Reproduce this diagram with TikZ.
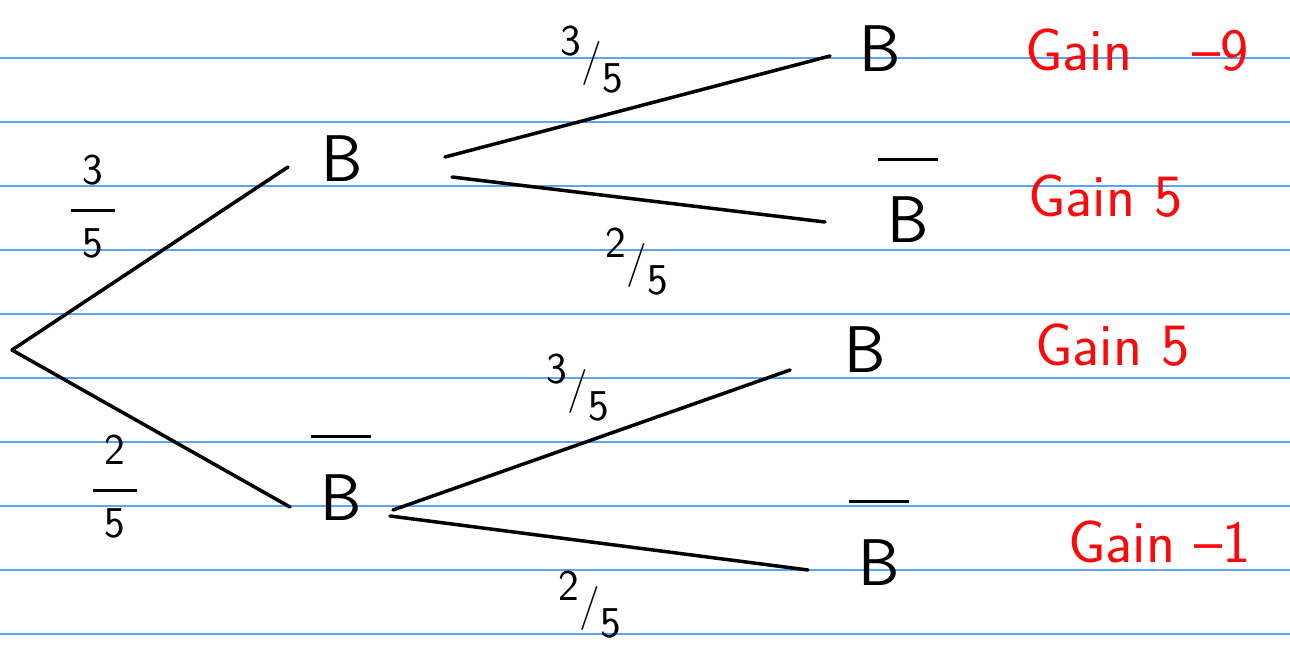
\documentclass[tikz,border=0pt]{standalone}
\usepackage{fontspec}
\usetikzlibrary{calc}
\definecolor{ligne}{RGB}{90,165,250}
\definecolor{rouge}{RGB}{250,10,10}
\newcommand{\nonB}{\begin{tabular}[b]{@{}c@{}}\rule{.9em}{3pt}\\[.25em]B\end{tabular}}
\newcommand{\fracv}[2]{\begin{tabular}{@{}c@{}}#1\\[-5pt]\rule[.25em]{1em}{3pt}\\[-10pt]#2\end{tabular}}
\newcommand{\fracb}[2]{\raisebox{.42em}{#1}/\raisebox{-.42em}{#2}}
\tikzset{
  evt/.style={anchor=base, inner sep=0pt, font=\fontsize{66}{66}\selectfont\sffamily},
  proba/.style={inner sep=0pt, font=\fontsize{44}{44}\selectfont\sffamily},
  gain/.style={anchor=west, inner sep=0pt, text=rouge, font=\fontsize{60}{60}\selectfont\sffamily},
  branche/.style={line width=3.5pt, line cap=round},
  reglure/.style={draw=ligne, line width=1.4pt},
}

\begin{document}
\begin{tikzpicture}[x=1pt,y=-1pt]
  \useasboundingbox (0,0) rectangle (1290,647);
  % papier ligne
  \foreach \yy in {58,122,...,634} \draw[reglure] (0,\yy) -- (1290,\yy);
  % evenements
  \coordinate (racine) at (12,350);
  \node[evt] (B) at (342,182) {B};
  \node[evt] (nB) at (341,520) {\nonB};
  \node[evt] (BB) at (880,72) {B};
  \node[evt] (BnB) at (908,243) {\nonB};
  \node[evt] (nBB) at (865,372) {B};
  \node[evt] (nBnB) at (879,585) {\nonB};
  % branches
  \draw[branche] (racine) -- ($(B.base)+(-54,-15)$);
  \draw[branche] (racine) -- ($(nB.base)+(-51,-13)$);
  \draw[branche] ($(B.base)+(103,-25)$) -- ($(BB.base)+(-50,-16)$);
  \draw[branche] ($(B.base)+(110,-5)$) -- ($(BnB.base)+(-83,-21)$);
  \draw[branche] ($(nB.base)+(52,-10)$) -- ($(nBB.base)+(-75,-2)$);
  \draw[branche] ($(nB.base)+(49,-4)$) -- ($(nBnB.base)+(-71,-15)$);
  % probabilites
  \node[proba] (p1) at (93,212) {\fracv{3}{5}};
  \node[proba] (p2) at (115,492) {\fracv{2}{5}};
  \node[proba] (p3) at (592,60) {\fracb{3}{5}};
  \node[proba] (p4) at (637,262) {\fracb{2}{5}};
  \node[proba] (p5) at (578,388) {\fracb{3}{5}};
  \node[proba] (p6) at (590,605) {\fracb{2}{5}};
  % gains
  \node[gain] (g1) at (1025,50) {Gain\quad--9};
  \node[gain] (g2) at (1028,196) {Gain 5};
  \node[gain] (g3) at (1035,345) {Gain 5};
  \node[gain] (g4) at (1068,542) {Gain --1};
\end{tikzpicture}
\end{document}
